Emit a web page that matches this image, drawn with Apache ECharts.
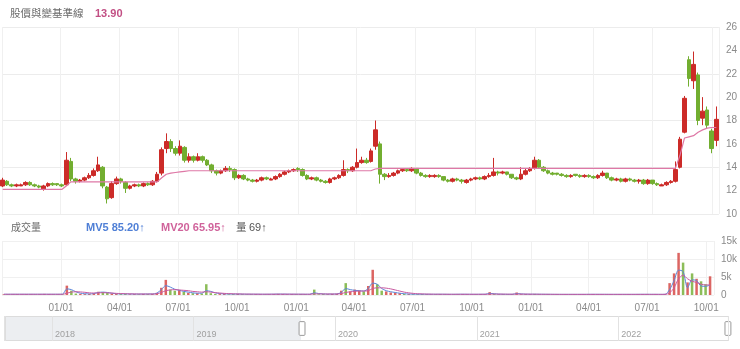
<!DOCTYPE html>
<html><head><meta charset="utf-8">
<script src="https://cdn.jsdelivr.net/npm/echarts@6/dist/echarts.min.js"></script>
<style>html,body{margin:0;padding:0;background:#fff}#c{width:740px;height:349px}</style>
</head><body><div id="c"></div>
<script>
// weekly sampling of the daily chart
const dates = [
'2019-10-04','2019-10-11','2019-10-18','2019-10-25','2019-11-01','2019-11-08','2019-11-15','2019-11-22','2019-11-29','2019-12-06','2019-12-13','2019-12-20','2019-12-27',
'2020-01-03','2020-01-10','2020-01-17','2020-01-24','2020-01-31','2020-02-07','2020-02-14','2020-02-21','2020-02-28','2020-03-06','2020-03-13','2020-03-20','2020-03-27',
'2020-04-03','2020-04-10','2020-04-17','2020-04-24','2020-05-01','2020-05-08','2020-05-15','2020-05-22','2020-05-29','2020-06-05','2020-06-12','2020-06-19','2020-06-26',
'2020-07-03','2020-07-10','2020-07-17','2020-07-24','2020-07-31','2020-08-07','2020-08-14','2020-08-21','2020-08-28','2020-09-04','2020-09-11','2020-09-18','2020-09-25',
'2020-10-02','2020-10-09','2020-10-16','2020-10-23','2020-10-30','2020-11-06','2020-11-13','2020-11-20','2020-11-27','2020-12-04','2020-12-11','2020-12-18','2020-12-25',
'2021-01-01','2021-01-08','2021-01-15','2021-01-22','2021-01-29','2021-02-05','2021-02-12','2021-02-19','2021-02-26','2021-03-05','2021-03-12','2021-03-19','2021-03-26',
'2021-04-02','2021-04-09','2021-04-16','2021-04-23','2021-04-30','2021-05-07','2021-05-14','2021-05-21','2021-05-28','2021-06-04','2021-06-11','2021-06-18','2021-06-25',
'2021-07-02','2021-07-09','2021-07-16','2021-07-23','2021-07-30','2021-08-06','2021-08-13','2021-08-20','2021-08-27','2021-09-03','2021-09-10','2021-09-17','2021-09-24',
'2021-10-01','2021-10-08','2021-10-15','2021-10-22','2021-10-29','2021-11-05','2021-11-12','2021-11-19','2021-11-26','2021-12-03','2021-12-10','2021-12-17','2021-12-24','2021-12-31',
'2022-01-07','2022-01-14','2022-01-21','2022-01-28','2022-02-04','2022-02-11','2022-02-18','2022-02-25','2022-03-04','2022-03-11','2022-03-18','2022-03-25',
'2022-04-01','2022-04-08','2022-04-15','2022-04-22','2022-04-29','2022-05-06','2022-05-13','2022-05-20','2022-05-27','2022-06-03','2022-06-10','2022-06-17','2022-06-24',
'2022-07-01','2022-07-08','2022-07-15','2022-07-22','2022-07-29','2022-08-05','2022-08-12','2022-08-19','2022-08-26','2022-09-02','2022-09-09','2022-09-16','2022-09-23','2022-09-30','2022-10-07'
];
const priceOpen = [
12.4,12.8,12.5,12.4,12.4,12.5,12.7,12.5,12.4,12.1,12.4,12.6,12.6,
12.5,12.5,14.5,13.0,12.8,12.9,13.1,13.3,13.7,14.0,12.3,11.4,12.6,
13.0,12.7,12.2,12.4,12.5,12.4,12.6,12.5,12.8,13.5,15.6,16.2,15.6,
15.2,15.7,14.6,14.9,14.6,14.9,14.6,14.2,13.7,13.5,13.7,13.9,13.8,
13.1,13.3,13.0,12.9,12.8,12.9,13.1,12.9,13.0,13.2,13.4,13.6,13.7,
13.9,13.8,13.3,13.0,13.1,12.9,12.8,12.7,13.0,13.1,13.3,13.8,13.7,
14.0,14.4,14.6,14.5,15.8,16.0,13.4,13.2,13.3,13.5,13.7,13.8,13.7,
13.9,13.5,13.3,13.2,13.2,13.3,13.2,12.9,12.8,13.0,12.9,12.7,12.9,
13.0,13.1,13.0,13.2,13.3,13.6,13.5,13.6,13.4,13.1,13.0,13.4,13.7,13.9,
14.6,14.0,13.7,13.5,13.5,13.4,13.3,13.2,13.4,13.3,13.2,13.3,
13.2,13.1,13.3,13.5,13.1,12.9,13.0,12.8,13.0,12.9,12.8,12.9,12.6,
12.9,12.6,12.4,12.5,12.7,12.8,14.0,17.0,23.2,21.4,21.9,18.2,18.9,17.1,16.3
];
const priceClose = [
12.9,12.5,12.4,12.5,12.5,12.7,12.5,12.4,12.3,12.4,12.6,12.5,12.5,
12.4,14.6,13.0,12.8,12.9,13.1,13.3,13.7,14.2,12.4,11.3,12.6,13.0,
12.8,12.2,12.4,12.5,12.4,12.6,12.5,12.8,13.4,15.5,16.2,15.6,15.2,
15.8,14.6,14.9,14.6,14.9,14.6,14.2,13.7,13.5,13.7,13.9,13.8,13.1,
13.3,13.0,12.9,12.8,12.9,13.1,13.0,13.0,13.2,13.4,13.6,13.7,13.8,
13.8,13.3,13.0,13.1,12.9,12.8,12.7,13.0,13.1,13.3,13.8,13.7,14.0,
14.4,14.6,14.4,15.4,17.2,13.4,13.2,13.3,13.5,13.7,13.8,13.7,13.9,
13.5,13.3,13.2,13.3,13.3,13.2,12.9,12.8,13.0,12.9,12.8,12.9,13.0,
13.1,13.0,13.2,13.3,13.6,13.5,13.6,13.4,13.1,13.0,13.4,13.7,13.9,14.6,
14.0,13.7,13.5,13.4,13.4,13.3,13.2,13.3,13.3,13.2,13.3,13.2,
13.1,13.3,13.5,13.1,12.9,13.0,12.8,13.0,12.9,12.8,12.9,12.6,12.9,
12.6,12.5,12.5,12.7,12.8,13.8,16.4,19.9,21.6,22.8,18.0,18.8,17.6,15.6,18.1
];
const priceLow = [
12.3,12.4,12.3,12.3,12.4,12.4,12.4,12.3,12.2,12.0,12.3,12.4,12.4,
12.3,12.4,12.8,12.6,12.7,12.8,13.0,13.2,13.6,12.2,10.9,11.3,12.5,
12.6,11.8,12.1,12.3,12.3,12.3,12.4,12.4,12.7,13.3,15.2,15.3,15.0,
15.0,14.4,14.4,14.4,14.5,14.4,14.1,13.5,13.3,13.4,13.6,13.6,12.9,
13.0,12.9,12.8,12.7,12.7,12.8,12.9,12.9,12.9,13.1,13.3,13.5,13.6,
13.6,13.2,12.9,12.9,12.8,12.7,12.6,12.6,12.9,13.0,13.2,13.5,13.6,
13.9,14.3,14.3,14.4,15.5,12.6,12.9,13.1,13.2,13.4,13.6,13.6,13.6,
13.4,13.2,13.1,13.1,13.1,13.1,12.8,12.7,12.7,12.8,12.6,12.6,12.8,
12.9,12.9,12.9,13.1,13.2,13.3,13.4,13.3,13.0,12.9,12.9,13.3,13.6,13.8,
13.9,13.6,13.4,13.3,13.3,13.2,13.1,13.1,13.2,13.1,13.1,13.1,
13.0,13.0,13.2,13.0,12.8,12.8,12.7,12.7,12.8,12.7,12.6,12.5,12.5,
12.5,12.4,12.4,12.4,12.6,12.7,13.9,16.9,20.9,20.7,17.6,17.6,17.3,15.2,15.8
];
const priceHigh = [
13.1,12.9,12.6,12.6,12.6,12.8,12.8,12.6,12.5,12.5,12.7,12.7,12.6,
12.6,15.3,14.8,13.1,13.0,13.2,13.5,13.9,14.9,14.1,12.4,12.8,13.2,
13.1,12.8,12.5,12.6,12.6,12.7,12.7,12.9,13.6,15.7,16.9,16.4,15.8,
16.3,15.8,15.2,15.0,15.2,15.0,14.7,14.3,13.8,13.8,14.1,14.1,13.9,
13.4,13.4,13.1,13.0,13.0,13.2,13.2,13.1,13.3,13.5,13.7,13.8,13.9,
14.0,13.9,13.4,13.2,13.2,13.0,12.9,13.1,13.2,13.4,14.6,13.9,14.1,
15.6,14.9,14.8,15.6,18.0,16.2,13.5,13.5,13.6,13.8,13.9,13.9,14.0,
13.9,13.6,13.4,13.4,13.4,13.4,13.2,13.0,13.1,13.1,13.0,13.0,13.1,
13.2,13.2,13.3,13.5,14.8,13.7,13.7,13.6,13.4,13.2,14.0,13.9,14.0,14.9,
14.7,14.1,13.8,13.6,13.5,13.5,13.4,13.4,13.4,13.4,13.4,13.4,
13.3,13.4,13.7,13.5,13.2,13.1,13.1,13.1,13.1,13.0,13.0,13.0,13.0,
12.9,12.7,12.6,12.8,12.9,14.5,16.6,20.1,23.5,23.9,22.1,20.0,19.2,17.3,19.2
];
const baseLine = [
12.1,12.1,12.1,12.1,12.1,12.1,12.1,12.1,12.1,12.1,12.1,12.1,12.1,
12.1,12.4,12.75,12.75,12.75,12.75,12.75,12.75,12.75,12.75,12.75,12.75,12.75,
12.75,12.75,12.75,12.75,12.75,12.75,12.75,12.75,12.75,13.1,13.4,13.5,13.55,
13.6,13.65,13.7,13.7,13.7,13.7,13.7,13.7,13.7,13.7,13.7,13.7,13.7,
13.7,13.7,13.7,13.7,13.7,13.7,13.7,13.7,13.7,13.7,13.7,13.7,13.7,
13.7,13.7,13.7,13.7,13.7,13.7,13.7,13.7,13.7,13.7,13.7,13.7,13.7,
13.7,13.7,13.7,13.7,13.85,13.9,13.9,13.9,13.9,13.9,13.9,13.9,13.9,
13.9,13.9,13.9,13.9,13.9,13.9,13.9,13.9,13.9,13.9,13.9,13.9,13.9,
13.9,13.9,13.9,13.9,13.9,13.9,13.9,13.9,13.9,13.9,13.9,13.9,13.9,13.9,
13.9,13.9,13.9,13.9,13.9,13.9,13.9,13.9,13.9,13.9,13.9,13.9,
13.9,13.9,13.9,13.9,13.9,13.9,13.9,13.9,13.9,13.9,13.9,13.9,13.9,
13.9,13.9,13.9,13.9,13.9,13.9,15.0,16.5,16.6,16.7,17.0,17.2,17.35,17.4,17.4
];
const volume = [
200,180,150,220,160,250,180,150,200,300,220,170,150,
200,2600,1200,400,300,250,300,500,900,800,600,400,300,
250,350,200,250,200,300,250,300,600,2000,4200,1500,1200,
1400,900,600,500,500,400,3000,500,300,250,350,200,250,
300,200,150,200,250,200,150,200,250,300,250,200,250,
200,250,200,150,1500,200,250,200,300,350,1200,3300,1000,
1500,1200,1000,2500,7000,3000,1200,1000,700,600,500,300,250,
200,200,250,200,150,200,250,200,150,200,200,250,200,
150,200,250,200,800,250,200,200,150,200,700,200,250,200,
300,200,150,200,150,200,150,150,200,150,200,150,
200,250,200,150,200,150,200,150,150,200,150,200,250,
200,150,200,150,250,3300,6000,11700,9000,3500,6000,4500,3800,3000,5200
];
const mv5 = [
200,200,200,200,200,200,200,200,200,200,200,200,200,
200,1700,1500,900,500,350,300,400,700,800,700,500,350,
300,300,280,260,250,260,270,280,500,1500,2600,2200,1600,
1300,1000,800,600,500,500,1200,1000,600,400,300,280,260,
260,240,220,220,220,210,200,210,230,250,250,230,220,
210,210,200,200,600,400,300,250,260,280,700,1800,1500,
1300,1200,1100,1800,3300,3000,1800,1200,900,700,500,350,280,
230,220,220,210,200,200,210,200,190,190,200,210,200,
190,190,200,210,450,350,250,210,190,190,400,300,240,220,
220,210,200,190,180,170,170,170,170,170,170,170,
180,190,190,180,180,170,170,170,170,170,170,180,190,
190,180,180,170,190,1500,4000,6900,6500,2000,4200,4000,2500,2400,2800
];
const mv20 = [
200,200,200,200,200,200,200,200,200,200,200,200,200,
200,500,800,900,850,750,600,550,600,650,600,550,450,
400,350,320,300,280,270,270,270,350,700,1200,1400,1500,
1400,1300,1200,1000,900,800,900,800,650,550,450,380,330,
300,270,250,240,230,220,220,220,220,230,230,230,230,
220,220,210,210,300,300,290,280,270,270,400,700,900,
1000,1100,1100,1200,1800,2000,2000,1900,1700,1400,1100,800,600,
450,350,300,260,240,220,210,210,200,200,200,200,200,
200,200,200,200,250,260,250,240,230,220,260,250,240,230,
220,210,200,200,190,190,180,180,180,180,180,180,
180,180,180,180,180,180,180,180,180,180,180,180,180,
180,180,180,180,190,600,2000,4500,5500,4500,3800,3500,3000,2800,2800
];
const priceTicks = {min: 10, max: 26, step: 2};
const volTicks = {min: 0, max: 15000, step: 5000};

const UP = '#cc2b28', DOWN = '#72ae30';
const FONT = '"Liberation Sans", Arial, "Noto Sans CJK TC", sans-serif';
const CJK = '"Noto Sans CJK TC", sans-serif';
const DAY = 86400000;
const tp = s => echarts.time.parse(s);

const chart = echarts.init(document.getElementById('c'), null, {renderer: 'canvas'});
const candles = dates.map((d, i) => [d, priceOpen[i], priceClose[i], priceLow[i], priceHigh[i]]);
const volBars = dates.map((d, i) => ({
  value: [d, volume[i]],
  itemStyle: {color: priceClose[i] >= priceOpen[i] ? 'rgba(214,74,70,0.85)' : 'rgba(120,178,60,0.85)'}
}));
const gridLine = '#f0f0f0';
const axisLbl = {color: '#8a8a8a', fontSize: 10, fontFamily: FONT};

chart.setOption({
  animation: false,
  textStyle: {fontFamily: FONT},
  grid: [
    {left: 2, right: 18, top: 27, height: 187},
    {left: 2, right: 18, top: 241, height: 54},
    {left: 4, right: 12, top: 316, height: 25}
  ],
  xAxis: [
    {type: 'time', gridIndex: 0, min: '2017-08-30', max: '2022-10-11', splitNumber: 12, maxInterval: 93 * DAY,
     axisLine: {show: false}, axisTick: {show: false}, axisLabel: {show: false},
     splitLine: {show: true, lineStyle: {color: gridLine}}},
    {type: 'time', gridIndex: 1, min: '2017-08-30', max: '2022-10-11', splitNumber: 12, maxInterval: 93 * DAY,
     axisLine: {show: false}, axisTick: {show: false},
     axisLabel: Object.assign({formatter: '{MM}/{dd}', margin: 8}, axisLbl),
     splitLine: {show: true, lineStyle: {color: gridLine}}},
    {type: 'time', gridIndex: 2, min: '2017-08-30', max: '2022-10-11', minInterval: 360 * DAY, z: 10,
     axisLine: {show: false}, axisTick: {show: false},
     axisLabel: {inside: true, formatter: '{yyyy}', align: 'left', padding: [0, 0, 0, 3], margin: 2,
                 color: '#a0a0a0', fontSize: 9, fontFamily: FONT},
     splitLine: {show: true, lineStyle: {color: '#e2e2e2'}}}
  ],
  yAxis: [
    {type: 'value', gridIndex: 0, position: 'right', min: priceTicks.min, max: priceTicks.max, interval: priceTicks.step,
     axisLine: {show: false}, axisTick: {show: false},
     axisLabel: Object.assign({margin: 7}, axisLbl),
     splitLine: {show: true, lineStyle: {color: ['#ececec', 'rgba(0,0,0,0)']}}},
    {type: 'value', gridIndex: 1, position: 'right', min: volTicks.min, max: volTicks.max, interval: volTicks.step,
     axisLine: {show: false}, axisTick: {show: false},
     axisLabel: Object.assign({margin: 7, formatter: v => v === 0 ? '0' : (v / 1000) + 'k'}, axisLbl),
     splitLine: {show: true, lineStyle: {color: gridLine}}},
    {type: 'value', gridIndex: 2, show: false, min: 0, max: 1}
  ],
  dataZoom: [{
    type: 'slider', xAxisIndex: [0, 1], filterMode: 'filter',
    startValue: tp('2019-10-03'), endValue: tp('2022-10-11'),
    left: 4, right: 12, top: 316, height: 25, z: 2,
    showDataShadow: false, showDetail: false, brushSelect: false, moveHandleSize: 0,
    backgroundColor: '#eceef1', fillerColor: '#ffffff', borderColor: '#dcdcdc',
    handleIcon: 'path://M1,0 H5 Q6,0 6,1 V13 Q6,14 5,14 H1 Q0,14 0,13 V1 Q0,0 1,0 Z',
    handleSize: '55%', handleStyle: {color: '#fff', borderColor: '#9a9a9a', borderWidth: 1},
    dataBackground: {lineStyle: {opacity: 0}, areaStyle: {opacity: 0}},
    textStyle: {color: 'transparent'}
  }],
  series: [
    {type: 'candlestick', xAxisIndex: 0, yAxisIndex: 0, data: candles, barWidth: 4,
     itemStyle: {color: UP, color0: DOWN, borderColor: UP, borderColor0: DOWN, borderWidth: 1}},
    {type: 'line', xAxisIndex: 0, yAxisIndex: 0, data: dates.map((d, i) => [d, baseLine[i]]),
     showSymbol: false, lineStyle: {color: '#de78a6', width: 1.2}, z: 3},
    {type: 'bar', xAxisIndex: 1, yAxisIndex: 1, data: volBars, barWidth: 2.5},
    {type: 'line', xAxisIndex: 1, yAxisIndex: 1, data: dates.map((d, i) => [d, mv5[i]]), smooth: 0.3,
     showSymbol: false, lineStyle: {color: '#5b86d8', width: 1}},
    {type: 'line', xAxisIndex: 1, yAxisIndex: 1, data: dates.map((d, i) => [d, mv20[i]]), smooth: 0.3,
     showSymbol: false, lineStyle: {color: '#c85aa0', width: 1}}
  ],
  graphic: [
    {type: 'text', left: 10, top: 8, style: {text: '股價與變基準線', fill: '#6a6a6a', font: '10.5px ' + CJK}},
    {type: 'text', left: 95, top: 8, style: {text: '13.90', fill: '#c24f84', font: 'bold 11px ' + FONT}},
    {type: 'text', left: 11, top: 222, style: {text: '成交量', fill: '#6a6a6a', font: '10px ' + CJK}},
    {type: 'text', left: 86, top: 222, style: {text: 'MV5 85.20↑', fill: '#4f7fd6', font: 'bold 11px ' + FONT}},
    {type: 'text', left: 161, top: 222, style: {text: 'MV20 65.95↑', fill: '#d0639b', font: 'bold 11px ' + FONT}},
    {type: 'text', left: 236, top: 222, style: {text: '量', fill: '#555', font: '10.5px ' + CJK}},
    {type: 'text', left: 249, top: 222, style: {text: '69↑', fill: '#555', font: '11px ' + FONT}}
  ]
});
</script></body></html>
